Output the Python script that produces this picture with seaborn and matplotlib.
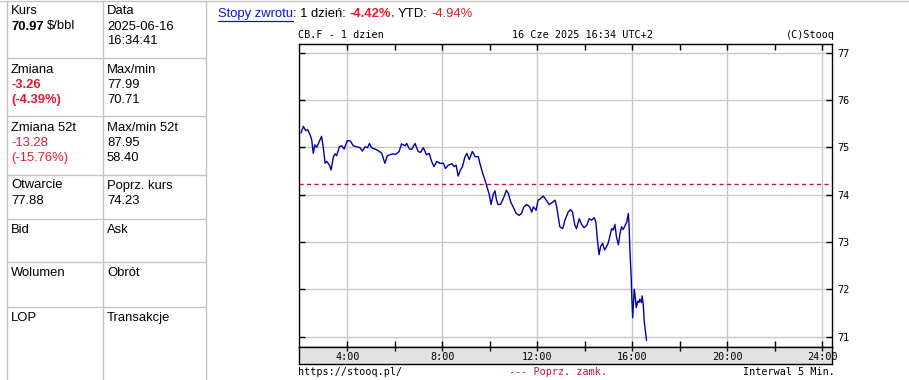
import matplotlib
matplotlib.use("Agg")
import matplotlib.pyplot as plt
import matplotlib.transforms as mtransforms
import seaborn as sns
import pandas as pd

# ---------------- data ----------------
times = ["2:03", "2:09", "2:15", "2:20", "2:26", "2:30", "2:34", "2:38", "2:43", "2:47",
         "2:55", "2:59", "3:04", "3:08", "3:15", "3:19", "3:25", "3:29", "3:33", "3:40",
         "3:46", "3:52", "4:00", "4:08", "4:15", "4:24", "4:32", "4:38", "4:45", "4:51",
         "4:56", "5:01", "5:10", "5:18", "5:27", "5:35", "5:41", "5:48", "5:55", "6:03",
         "6:11", "6:17", "6:26", "6:30", "6:37", "6:43", "6:51", "6:59", "7:05", "7:12",
         "7:20", "7:27", "7:33", "7:39", "7:46", "7:54", "8:03", "8:08", "8:15", "8:24",
         "8:30", "8:35", "8:40", "8:46", "8:51", "8:57", "9:02", "9:08", "9:16", "9:23",
         "9:31", "9:35", "9:42", "9:48", "9:54", "9:59", "10:03", "10:09", "10:13", "10:17",
         "10:21", "10:27", "10:34", "10:42", "10:47", "10:53", "10:59", "11:06", "11:14", "11:20",
         "11:26", "11:33", "11:40", "11:46", "11:50", "11:57", "12:02", "12:08", "12:15", "12:22",
         "12:30", "12:36", "12:45", "12:49", "12:57", "13:04", "13:10", "13:18", "13:24", "13:29",
         "13:35", "13:39", "13:46", "13:52", "13:58", "14:05", "14:11", "14:17", "14:24", "14:28",
         "14:32", "14:36", "14:40", "14:45", "14:50", "14:55", "14:59", "15:04", "15:08", "15:12",
         "15:16", "15:20", "15:25", "15:29", "15:33", "15:37", "15:42", "15:46", "15:50", "15:52",
         "15:54", "15:57", "15:59", "16:01", "16:03", "16:05", "16:08", "16:10", "16:14", "16:17",
         "16:19", "16:23", "16:25", "16:28", "16:30", "16:33", "16:36"]
prices = [75.30, 75.44, 75.35, 75.37, 75.26, 75.16, 74.87, 75.05, 75.00, 75.08,
          75.23, 75.01, 74.66, 74.70, 74.62, 74.52, 74.80, 74.86, 74.82, 75.01,
          75.03, 74.96, 75.14, 75.13, 75.03, 75.01, 74.99, 74.92, 75.01, 74.99,
          75.08, 74.99, 74.96, 74.93, 74.87, 74.66, 74.82, 74.84, 74.86, 74.85,
          74.91, 75.07, 75.03, 75.08, 74.96, 74.96, 75.08, 74.91, 74.89, 74.99,
          74.84, 74.87, 74.70, 74.59, 74.70, 74.66, 74.66, 74.55, 74.62, 74.65,
          74.59, 74.62, 74.39, 74.52, 74.59, 74.79, 74.87, 74.74, 74.91, 74.80,
          74.80, 74.66, 74.45, 74.30, 74.13, 73.99, 73.79, 74.01, 74.08, 73.88,
          73.79, 73.79, 73.91, 74.09, 74.02, 73.84, 73.74, 73.61, 73.56, 73.60,
          73.74, 73.79, 73.75, 73.63, 73.74, 73.67, 73.88, 73.91, 73.97, 73.89,
          73.79, 73.82, 73.88, 73.74, 73.32, 73.28, 73.46, 73.63, 73.68, 73.63,
          73.35, 73.28, 73.49, 73.37, 73.30, 73.35, 73.49, 73.46, 73.51, 73.42,
          73.04, 72.73, 72.90, 72.97, 72.83, 72.90, 72.97, 73.14, 73.28, 73.25,
          73.37, 73.11, 72.94, 73.18, 73.32, 73.26, 73.35, 73.42, 73.60, 73.32,
          72.83, 72.31, 71.79, 71.40, 71.72, 72.00, 71.79, 71.61, 71.75, 71.72,
          71.79, 71.72, 71.86, 71.65, 71.33, 71.13, 70.92]
prev_close = 74.23

xtick_hours = [4, 8, 12, 16, 20, 24]
xtick_labels = ["4:00", "8:00", "12:00", "16:00", "20:00", "24:00"]
xminor_hours = [6, 10, 14, 18, 22]
ytick_vals = [71, 72, 73, 74, 75, 76, 77]

table_rows = [
    # (y of first line, left column lines, right column lines)
    [("Kurs", {}), None],
]

df = pd.DataFrame({"time": times, "price": prices})
hm = df["time"].str.split(":", expand=True).astype(int)
df["hour"] = hm[0] + hm[1] / 60.0

# ---------------- figure ----------------
sns.set_theme(style="white")
plt.rcParams["font.family"] = ["Liberation Sans", "DejaVu Sans"]

W, H = 909, 380
fig = plt.figure(figsize=(W / 100, H / 100), dpi=100)
fig.patch.set_facecolor("white")

bg = fig.add_axes([0, 0, 1, 1])
bg.set_xlim(0, W)
bg.set_ylim(H, 0)
bg.axis("off")

RED = "#e6192e"
BLUE_LINK = "#1010dd"
GRID = "#c8c8c8"
TBL = "#c4c4c4"
MONO = "DejaVu Sans Mono"
FS = 9.4
MFS = 7.3

# table lines
for x in [7, 103, 206]:
    bg.plot([x, x], [1, H], color=TBL, lw=1)
bg.plot([0, W], [1, 1], color=TBL, lw=1)
for y in [58, 116, 175, 219, 262, 307]:
    bg.plot([7, 206], [y, y], color=TBL, lw=1)

renderer = fig.canvas.get_renderer()


def seg_text(x, y, parts, size=FS):
    start = x
    for s, kw in parts:
        if s == " ":
            x += 3.6
            continue
        t = bg.text(x, y, s, fontsize=size, va="center", ha="left", **kw)
        x += t.get_window_extent(renderer=renderer).width
    return start, x


def cell(x, y, lines):
    for i, parts in enumerate(lines):
        seg_text(x, y + i * 15.0, parts)


K = {"color": "black"}
cell(11, 11.5, [[("Kurs", K)], [("70.97", dict(color="black", fontweight="bold")), (" ", {}), ("$/bbl", K)]])
cell(107, 11.5, [[("Data", K)], [("2025-06-16", K)], [("16:34:41", K)]])
cell(11, 70, [[("Zmiana", K)], [("-3.26", dict(color=RED, fontweight="bold"))],
              [("(-4.39%)", dict(color=RED, fontweight="bold"))]])
cell(107, 70, [[("Max/min", K)], [("77.99", K)], [("70.71", K)]])
cell(11, 128, [[("Zmiana 52t", K)], [("-13.28", dict(color=RED))], [("(-15.76%)", dict(color=RED))]])
cell(107, 128, [[("Max/min 52t", K)], [("87.95", K)], [("58.40", K)]])
cell(11, 185.5, [[("Otwarcie", K)], [("77.88", K)]])
cell(107, 185.5, [[("Poprz. kurs", K)], [("74.23", K)]])
cell(11, 230, [[("Bid", K)]])
cell(107, 230, [[("Ask", K)]])
cell(11, 273.5, [[("Wolumen", K)]])
cell(107, 273.5, [[("Obrót", K)]])
cell(11, 318, [[("LOP", K)]])
cell(107, 318, [[("Transakcje", K)]])

# header line
x0, x1 = seg_text(218, 14, [("Stopy zwrotu", dict(color=BLUE_LINK))])
bg.plot([x0, x1], [20.5, 20.5], color=BLUE_LINK, lw=0.9)
seg_text(x1, 14, [(": 1 dzień:", K), (" ", {}), ("-4.42%", dict(color=RED, fontweight="bold")),
                  (",", K), (" ", {}), ("YTD:", K), (" ", {}), ("-4.94%", dict(color=RED))])

# chart header / footer
bg.text(298, 35, "CB.F - 1 dzien", family=MONO, fontsize=MFS, va="center", ha="left", color="black")
bg.text(582, 35, "16 Cze 2025 16:34 UTC+2", family=MONO, fontsize=MFS, va="center", ha="center", color="black")
bg.text(835, 35, "(C)Stooq", family=MONO, fontsize=MFS, va="center", ha="right", color="black")
bg.text(298, 372, "https://stooq.pl/", family=MONO, fontsize=MFS, va="center", ha="left", color="black")
bg.text(509, 372, "--- Poprz. zamk.", family=MONO, fontsize=MFS, va="center", ha="left", color="#d0103a")
bg.text(835, 372, "Interwal 5 Min.", family=MONO, fontsize=MFS, va="center", ha="right", color="black")

# main chart axes
L, R, T, B = 299, 832, 44, 347
xlim = (1.966, 24.41)
ax = fig.add_axes([L / W, 1 - B / H, (R - L) / W, (B - T) / H])
ax.set_facecolor("white")
ax.axhline(prev_close, color="#d0103a", lw=1.0, ls=(0, (3, 2.4)), zorder=2)
sns.lineplot(data=df, x="hour", y="price", ax=ax, color="#0000aa", lw=1.0, zorder=3)
ax.set_xlim(*xlim)
ax.set_ylim(70.78, 77.18)
ax.set_xlabel("")
ax.set_ylabel("")
ax.set_xticks(xtick_hours)
ax.set_xticks(xminor_hours, minor=True)
ax.set_yticks(ytick_vals)
ax.set_yticklabels([str(v) for v in ytick_vals], family=MONO, fontsize=MFS)
ax.grid(True, which="major", color=GRID, lw=1, zorder=0)
ax.set_axisbelow(True)
ax.tick_params(axis="x", which="both", top=True, bottom=True, direction="in", length=4,
               width=1, color="black", labelbottom=False, labeltop=False)
ax.tick_params(axis="y", which="both", left=True, right=True, direction="in", length=4,
               width=1, color="black", labelleft=False, labelright=True, pad=4, labelcolor="black")
for sp in ax.spines.values():
    sp.set_visible(True)
    sp.set_color("black")
    sp.set_linewidth(1)

# x-label strip
sx = fig.add_axes([L / W, 1 - 364 / H, (R - L) / W, (364 - B) / H])
sx.set_facecolor("#e2e2e2")
sx.set_xlim(*xlim)
sx.set_ylim(0, 1)
sx.set_yticks([])
sx.set_xticks(xtick_hours + xminor_hours)
sx.tick_params(axis="x", which="both", top=True, bottom=False, direction="in", length=3,
               width=1, color="black", labelbottom=False)
for sp in sx.spines.values():
    sp.set_visible(True)
    sp.set_color("black")
    sp.set_linewidth(1)
trans = mtransforms.blended_transform_factory(sx.transData, sx.transAxes)
for hv, lab in zip(xtick_hours, xtick_labels):
    sx.text(hv, 0.42, lab, transform=trans, family=MONO, fontsize=MFS, ha="center", va="center", color="black")

fig.savefig("out.png", dpi=100, facecolor="white")
